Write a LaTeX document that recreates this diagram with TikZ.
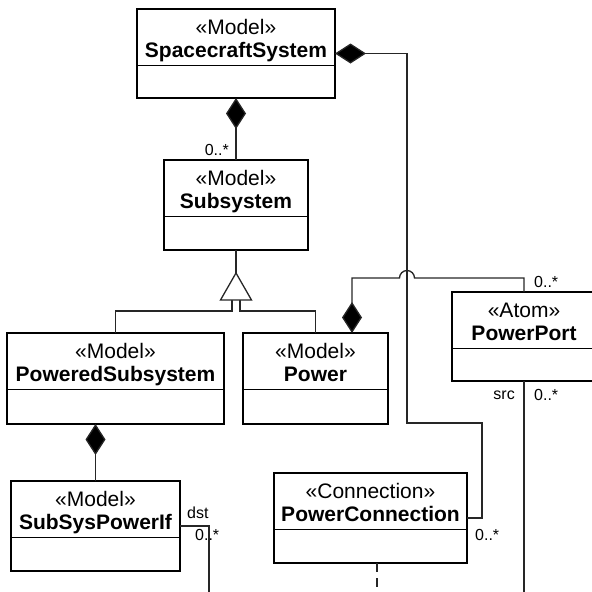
\documentclass[tikz,border=0pt]{standalone}
\usepackage{fontspec}
\setmainfont{Liberation Sans}
\usetikzlibrary{arrows.meta,fit,calc}

\tikzset{
  classbox/.style={draw=black, line width=1.8pt, inner sep=0pt, outer sep=0pt},
  divider/.style={draw=black, line width=1.6pt},
  stereo/.style={inner sep=0pt, font=\fontsize{21}{24}\selectfont},
  cname/.style={inner sep=0pt, font=\fontsize{21}{24}\selectfont\bfseries},
  mult/.style={inner sep=0pt, font=\fontsize{16}{18}\selectfont},
  link/.style={draw=black!85, line width=1.3pt},
  comp/.style={link, {Diamond[length=31pt,width=20pt,fill=black]}-},
}

% UML class box: name, corner points, stereotype, class name
\newcommand\umlclass[4]{%
  \node[classbox, fit={#2}] (#1) {};
  \draw[divider] ([yshift=-56.5pt]#1.north west) -- ([yshift=-56.5pt]#1.north east);
  \node[stereo, anchor=base] (#1-st) at ([yshift=-25.5pt]#1.north) {#3};
  \node[cname, anchor=base] (#1-nm) at ([yshift=-48.5pt]#1.north) {#4};
}

\begin{document}
\begin{tikzpicture}[x=1pt,y=-1pt]
\useasboundingbox (0,0) rectangle (592,592);
\clip (0,0) rectangle (592,592);

% classes
\umlclass{ss}{(137,9) (335,98)}{«Model»}{SpacecraftSystem}
\umlclass{sub}{(164,160) (308,250)}{«Model»}{Subsystem}
\umlclass{psub}{(7,333) (224,424)}{«Model»}{PoweredSubsystem}
\umlclass{pw}{(243,333) (388,424)}{«Model»}{Power}
\umlclass{pp}{(452,292) (596,381)}{«Atom»}{PowerPort}
\umlclass{sif}{(11,481) (180,571)}{«Model»}{SubSysPowerIf}
\umlclass{pc}{(274,473) (467,563)}{«Connection»}{PowerConnection}

% SpacecraftSystem owns Subsystem
\draw[comp] (ss.south) -- (sub.north);
\node[mult, anchor=east] (m-sub) at ([xshift=-7pt,yshift=10pt]sub.north) {0..*};

% SpacecraftSystem owns PowerConnection
\draw[comp] (ss.east) -| (407,423) -| ([xshift=15pt]pc.east) -- (pc.east);
\node[mult, anchor=west] (m-pc) at ([xshift=8pt,yshift=-17pt]pc.east) {0..*};

% generalization of Subsystem
\coordinate (gtip) at (236,273);
\draw[link] (sub.south) -- (gtip);
\draw[link] (232,300) |- ([yshift=22pt]psub.north) -- (psub.north);
\draw[link] (240,300) |- ([yshift=22pt]pw.north) -- (pw.north);
\draw[link, fill=white] (gtip) -- ++(15.5pt,-27pt) -- ++(-31pt,0pt) -- cycle;

% Power owns PowerPort, hopping over the PowerConnection line
\draw[comp] ([xshift=36.5pt]pw.north) |- (399.5,278)
  arc[start angle=180, end angle=0, radius=7.5pt] -| (pp.north);
\node[mult, anchor=west] (m-pp) at ([xshift=10pt,yshift=10pt]pp.north) {0..*};

% PoweredSubsystem owns SubSysPowerIf
\draw[comp] (sif.north |- psub.south) -- (sif.north);

% PowerPort as source end
\coordinate (ppend) at (524,600);
\draw[link] (pp.south) -- (ppend);
\node[mult, anchor=east] (l-src) at ([xshift=-9pt,yshift=-14pt]pp.south) {src};
\node[mult, anchor=west] (m-src) at ([xshift=10pt,yshift=-14pt]pp.south) {0..*};

% SubSysPowerIf as destination end
\coordinate (sifend) at (209,600);
\draw[link] (sif.east) -| (sifend);
\node[mult, anchor=west] (l-dst) at ([xshift=7pt,yshift=13pt]sif.east) {dst};
\node[mult, anchor=west] (m-dst) at ([xshift=15pt,yshift=-9pt]sif.east) {0..*};

% PowerConnection association class link
\coordinate (pcend) at (377,600);
\draw[link, dash pattern=on 9pt off 6pt] ([xshift=6.5pt]pc.south) -- (pcend);
\end{tikzpicture}
\end{document}
